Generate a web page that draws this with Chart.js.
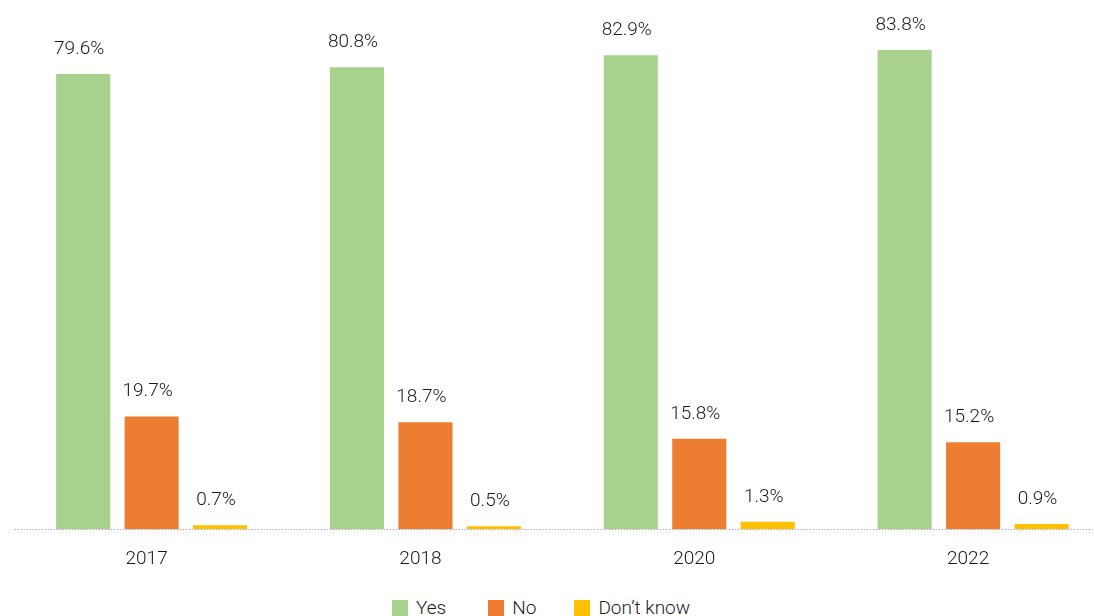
<!DOCTYPE html>
<html>
<head>
<meta charset="utf-8">
<script src="https://cdn.jsdelivr.net/npm/chart.js@4.4.1/dist/chart.umd.min.js"></script>
<style>
  html, body { margin: 0; padding: 0; background: #fff; overflow: hidden; }
  #wrap { width: 1094px; height: 616px; position: relative; overflow: hidden; }
  #chartBox { position: absolute; left: 0; top: 0; width: 1110px; height: 590px; }
  #legend { position: absolute; left: 392px; top: 596px; display: flex; align-items: center;
            font-family: Roboto, "Liberation Sans", sans-serif; font-weight: 300; font-size: 19px; color: #1a1a1a; }
  #legend .item { display: flex; align-items: center; margin-right: 42px; }
  #legend .item:nth-child(2) { margin-right: 38px; }
  #legend .swatch { width: 16px; height: 16px; margin-right: 8px; }
</style>
</head>
<body>
<div id="wrap">
  <div id="chartBox"><canvas id="surveyChart"></canvas></div>
  <div id="legend"></div>
</div>
<script>
// data
const years = ['2017', '2018', '2020', '2022'];
const yesValues = [79.6, 80.8, 82.9, 83.8];
const noValues = [19.7, 18.7, 15.8, 15.2];
const dontKnowValues = [0.7, 0.5, 1.3, 0.9];
const seriesNames = ['Yes', 'No', 'Don\u2019t know'];

const fontFamily = 'Roboto, "Liberation Sans", sans-serif';

// value labels above each bar + dotted baseline
const barLabels = {
    id: 'barLabels',
    afterDatasetsDraw(chart) {
        const ctx = chart.ctx;
        const area = chart.chartArea;
        const y0 = Math.round(chart.scales.y.getPixelForValue(0)) + 0.5;
        ctx.save();
        ctx.strokeStyle = '#b07a9a';
        ctx.lineWidth = 1;
        ctx.setLineDash([1, 2]);
        ctx.beginPath();
        ctx.moveTo(area.left, y0);
        ctx.lineTo(chart.width, y0);
        ctx.stroke();
        ctx.setLineDash([]);

        ctx.font = '300 19px ' + fontFamily;
        ctx.fillStyle = '#1a1a1a';
        ctx.textAlign = 'center';
        ctx.textBaseline = 'middle';
        chart.data.datasets.forEach((ds, i) => {
            const meta = chart.getDatasetMeta(i);
            meta.data.forEach((bar, j) => {
                ctx.fillText(ds.data[j].toFixed(1) + '%', bar.x - 4, bar.y - 25);
            });
        });
        ctx.restore();
    }
};

const ctx = document.getElementById('surveyChart').getContext('2d');
const surveyChart = new Chart(ctx, {
    type: 'bar',
    data: {
        labels: years,
        datasets: [
            { label: seriesNames[0], data: yesValues, backgroundColor: '#a9d18e' },
            { label: seriesNames[1], data: noValues, backgroundColor: '#ed7d31' },
            { label: seriesNames[2], data: dontKnowValues, backgroundColor: '#ffc000' }
        ]
    },
    options: {
        responsive: true,
        maintainAspectRatio: false,
        animation: false,
        datasets: {
            bar: { categoryPercentage: 0.75, barPercentage: 0.79 }
        },
        layout: {
            padding: { left: 14.7, right: 0, top: 14.6, bottom: 0 }
        },
        plugins: {
            tooltip: { enabled: false },
            legend: { display: false }
        },
        scales: {
            x: {
                grid: { display: false, drawTicks: false },
                border: { display: false },
                ticks: {
                    color: '#1a1a1a',
                    padding: 19,
                    labelOffset: -5,
                    font: { family: fontFamily, size: 19, weight: '300' }
                }
            },
            y: {
                display: false,
                min: 0,
                max: 90
            }
        }
    },
    plugins: [barLabels]
});

// html legend
const legendEl = document.getElementById('legend');
surveyChart.data.datasets.forEach(ds => {
    const item = document.createElement('div');
    item.className = 'item';
    const sw = document.createElement('span');
    sw.className = 'swatch';
    sw.style.background = ds.backgroundColor;
    const txt = document.createElement('span');
    txt.textContent = ds.label;
    item.appendChild(sw);
    item.appendChild(txt);
    legendEl.appendChild(item);
});
</script>
</body>
</html>
